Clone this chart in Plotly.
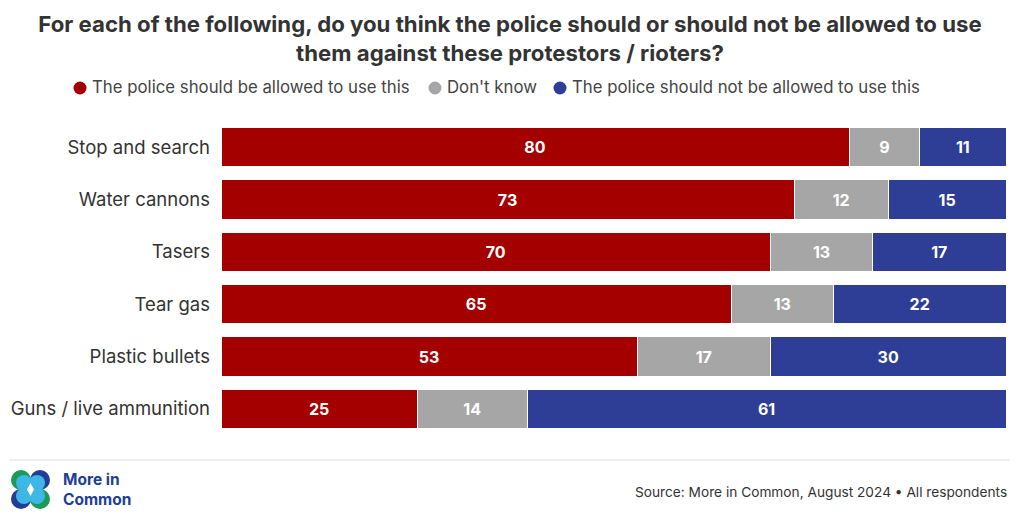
import plotly.graph_objects as go

categories = ["Stop and search", "Water cannons", "Tasers", "Tear gas", "Plastic bullets", "Guns / live ammunition"]
allowed = [80, 73, 70, 65, 53, 25]
dont_know = [9, 12, 13, 13, 17, 14]
not_allowed = [11, 15, 17, 22, 30, 61]
series_names = ["The police should be allowed to use this", "Don't know", "The police should not be allowed to use this"]
colors = ["#A40000", "#A6A6A6", "#2E3E96"]

FONT = "Inter"
fig = go.Figure()
for name, vals, col in zip(series_names, [allowed, dont_know, not_allowed], colors):
    fig.add_trace(go.Bar(
        y=categories, x=vals, orientation="h", name=name,
        marker=dict(color=col, line=dict(color="white", width=1)),
        text=[str(v) for v in vals], textposition="inside", insidetextanchor="middle",
        textfont=dict(color="white", size=16, family=FONT, weight="bold"),
        showlegend=False, hoverinfo="skip", width=0.75,
    ))

fig.update_layout(
    width=1020, height=524, barmode="stack",
    margin=dict(l=221, r=14, t=121, b=89, autoexpand=False),
    paper_bgcolor="white", plot_bgcolor="white",
    font=dict(family=FONT, color="#333333"),
    showlegend=False,
    title=dict(text="For each of the following, do you think the police should or should not be allowed to use<br>them against these protestors / rioters?",
               x=0.5, xanchor="center", xref="container", y=1 - 32 / 524, yref="container", yanchor="middle",
               font=dict(size=22.2, color="#333333", family=FONT, weight="bold")),
    xaxis=dict(range=[0, 100], visible=False, fixedrange=True),
    yaxis=dict(categoryorder="array", categoryarray=categories, autorange="reversed",
               tickfont=dict(size=18.5, color="#333333", family=FONT), ticks="", ticklabelstandoff=10,
               showgrid=False, zeroline=False, showline=False),
    bargap=0.25,
)


def px(xp):
    return (xp - 221) / 785


def py(yp):
    return (435 - yp) / 314


# manual legend
legend_x = [80, 435, 560]
for lx, name, col in zip(legend_x, series_names, colors):
    fig.add_shape(type="circle", xref="paper", yref="paper", x0=px(lx - 6.5), x1=px(lx + 6.5),
                  y0=py(88 + 6.5), y1=py(88 - 6.5), fillcolor=col, line=dict(width=0))
    fig.add_annotation(text=name, xref="paper", yref="paper", x=px(lx + 10), y=py(87),
                       xanchor="left", yanchor="middle", showarrow=False,
                       font=dict(size=16.8, color="#444444", family=FONT))

# separator line
fig.add_shape(type="line", xref="paper", yref="paper", x0=px(10), x1=px(1010),
              y0=py(460), y1=py(460), line=dict(color="#DDDDDD", width=1))

# logo
logo = [
    (21, 480, "#1E9A57"), (40, 480, "#213E97"),
    (21, 499, "#213E97"), (40, 499, "#1E9A57"),
]
for cx, cy, col in logo:
    fig.add_shape(type="circle", xref="paper", yref="paper", x0=px(cx - 10), x1=px(cx + 10),
                  y0=py(cy + 10), y1=py(cy - 10), fillcolor=col, line=dict(width=0))
for cx, cy in [(24, 483), (37, 483), (24, 496), (37, 496)]:
    fig.add_shape(type="circle", xref="paper", yref="paper", x0=px(cx - 8), x1=px(cx + 8),
                  y0=py(cy + 8), y1=py(cy - 8), fillcolor="#3DB7E6", line=dict(width=0))
fig.add_shape(type="path", xref="paper", yref="paper",
              path=f"M {px(30.5)} {py(483)} L {px(34)} {py(489.5)} L {px(30.5)} {py(496)} L {px(27)} {py(489.5)} Z",
              fillcolor="white", line=dict(width=0))

fig.add_annotation(text="More in<br>Common", xref="paper", yref="paper", x=px(61), y=py(489.5),
                   xanchor="left", yanchor="middle", showarrow=False, align="left",
                   font=dict(size=15.5, color="#213E97", family=FONT, weight="bold"))
fig.add_annotation(text="Source: More in Common, August 2024 • All respondents", xref="paper", yref="paper",
                   x=px(1009), y=py(492), xanchor="right", yanchor="middle", showarrow=False,
                   font=dict(size=13.7, color="#333333", family=FONT))

fig.write_html("out.html")
